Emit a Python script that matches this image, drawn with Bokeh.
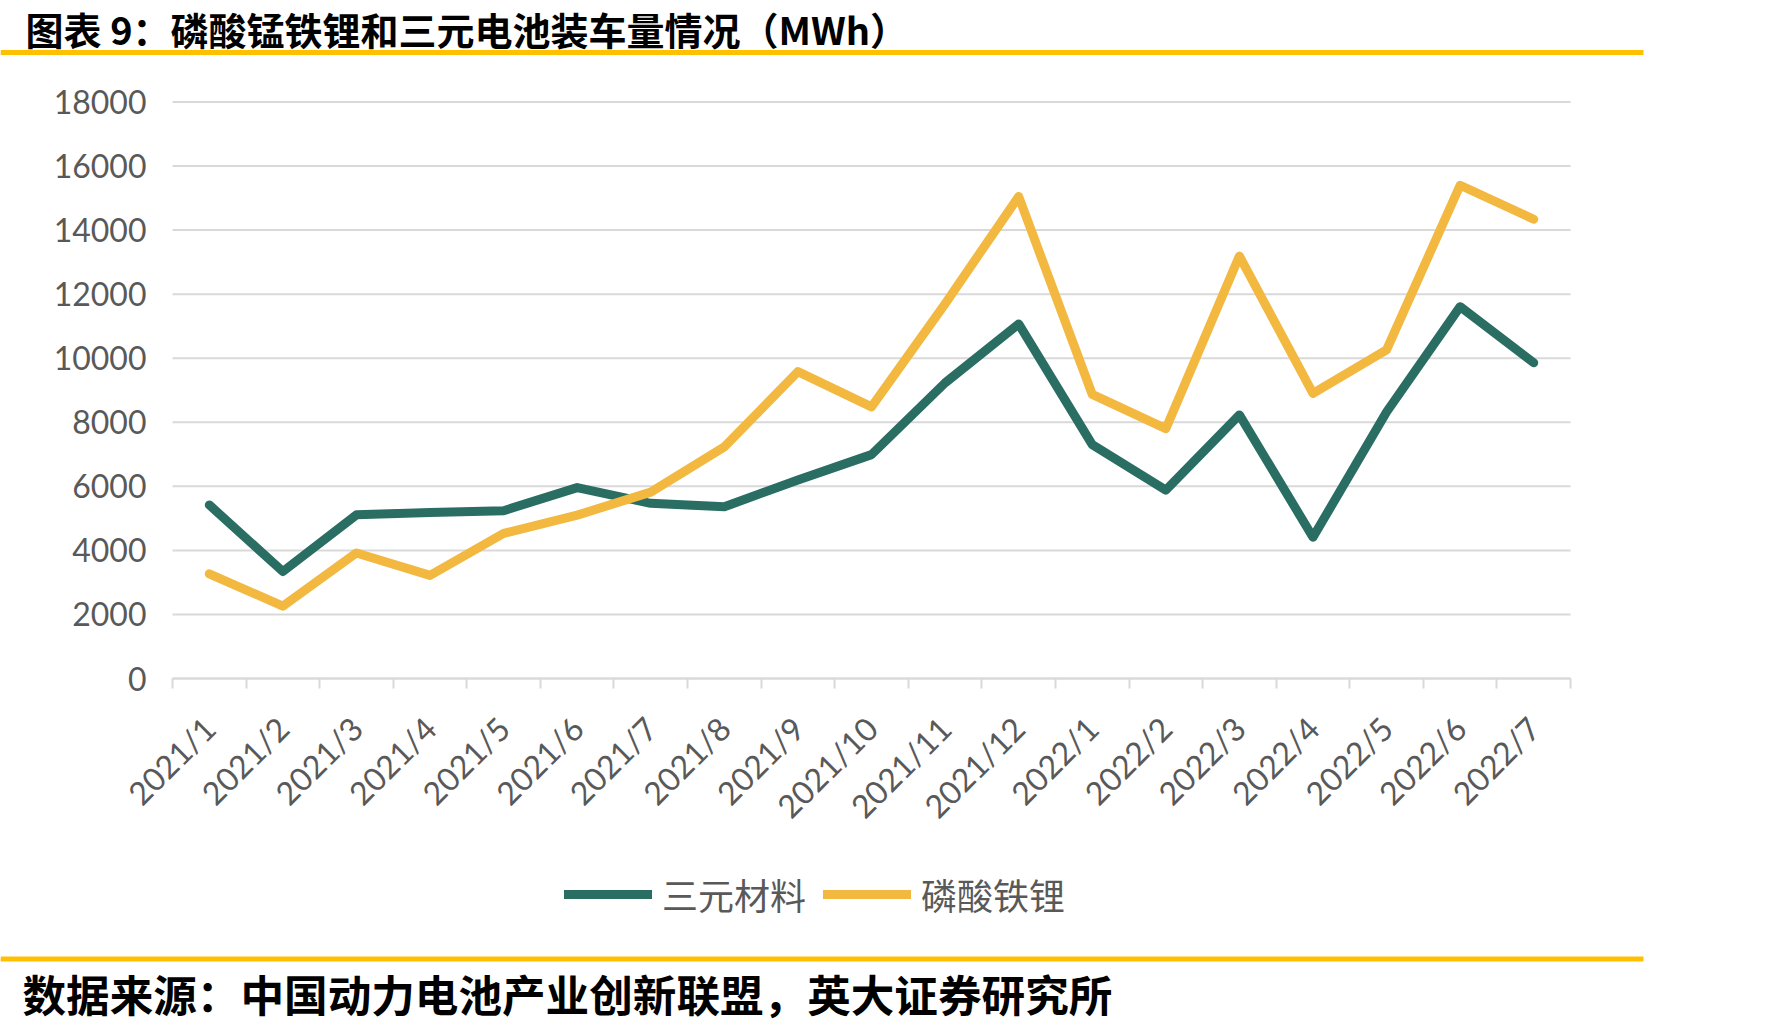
import math
from bokeh.plotting import figure
from bokeh.models import (Range1d, FixedTicker, Legend, LegendItem, ColumnDataSource,
                          Label, BoxAnnotation)
from bokeh.embed import file_html
from bokeh.resources import INLINE

# ---------------- data ----------------
categories = ["2021/1", "2021/2", "2021/3", "2021/4", "2021/5", "2021/6", "2021/7",
              "2021/8", "2021/9", "2021/10", "2021/11", "2021/12", "2022/1", "2022/2",
              "2022/3", "2022/4", "2022/5", "2022/6", "2022/7"]
ternary = [5420, 3340, 5110, 5180, 5240, 5960, 5470, 5360, 6200, 6990, 9230, 11070,
           7300, 5880, 8230, 4410, 8320, 11610, 9860]
lfp = [3270, 2260, 3920, 3220, 4530, 5100, 5820, 7230, 9580, 8480, 11700, 15050,
       8870, 7800, 13190, 8900, 10260, 15400, 14340]
y_ticks = [0, 2000, 4000, 6000, 8000, 10000, 12000, 14000, 16000, 18000]
series_names = ["三元材料", "磷酸铁锂"]
title_text = "图表 9：磷酸锰铁锂和三元电池装车量情况（MWh）"
source_text = "数据来源：中国动力电池产业创新联盟，英大证券研究所"

GREEN = "#2A6E63"
YELLOW = "#F2B840"
GOLD = "#FFC000"
GRAY = "#D9D9D9"
LABEL = "#595959"

W, H = 1768, 1026
# plot-area placement on the page (px)
PL, PR, PT, PB = 172, 1570, 101.5, 678
n = len(categories)
YMAX = y_ticks[-1]
cw = (PR - PL) / n            # px per category
sy = (PB - PT) / YMAX         # px per MWh


def px2x(px):
    return (px - PL) / cw


def py2y(py):
    return (PB - py) / sy


xs = [i + 0.5 for i in range(n)]

# the frame covers the whole page; axes are pinned with fixed_location
p = figure(width=W, height=H,
           x_range=Range1d(px2x(0), px2x(W)), y_range=Range1d(py2y(H), py2y(0)),
           min_border=0, output_backend="svg", toolbar_location=None)
p.outline_line_color = None
p.background_fill_color = "white"
p.border_fill_color = "white"

# horizontal gridlines, limited to the plot area
p.ygrid.visible = False
p.xgrid.visible = False
p.segment(x0=[0] * len(y_ticks), x1=[n] * len(y_ticks), y0=y_ticks, y1=y_ticks,
          line_color=GRAY, line_width=2)

src = ColumnDataSource(dict(x=xs, ternary=ternary, lfp=lfp))
r1 = p.line("x", "ternary", source=src, line_color=GREEN, line_width=9,
            line_cap="round", line_join="round")
r2 = p.line("x", "lfp", source=src, line_color=YELLOW, line_width=9,
            line_cap="round", line_join="round")

# x axis: labels at category centres, small ticks at category boundaries
xa = p.xaxis[0]
xa.fixed_location = 0
xa.bounds = (0, n)
xa.ticker = FixedTicker(ticks=xs, minor_ticks=list(range(n + 1)))
xa.major_label_overrides = {x: c for x, c in zip(xs, categories)}
xa.major_tick_line_color = None
xa.major_tick_out = 10
xa.major_tick_in = 0
xa.minor_tick_line_color = GRAY
xa.minor_tick_line_width = 2
xa.minor_tick_out = 10
xa.minor_tick_in = 0
xa.axis_line_color = GRAY
xa.axis_line_width = 2
xa.major_label_orientation = math.pi / 4
xa.major_label_standoff = 34
xa.major_label_text_font = "Lato"
xa.major_label_text_font_size = "32px"
xa.major_label_text_color = LABEL

ya = p.yaxis[0]
ya.fixed_location = 0
ya.bounds = (0, YMAX)
ya.ticker = FixedTicker(ticks=y_ticks)
ya.axis_line_color = None
ya.major_tick_line_color = None
ya.minor_tick_line_color = None
ya.major_label_standoff = 20
ya.major_label_text_font = "Lato"
ya.major_label_text_font_size = "32px"
ya.major_label_text_color = LABEL

legend = Legend(items=[LegendItem(label=series_names[0], renderers=[r1]),
                       LegendItem(label=series_names[1], renderers=[r2])],
                orientation="horizontal", location=(564, H - 896 - 24),
                border_line_color=None, background_fill_alpha=0,
                label_text_font="Noto Sans CJK SC", label_text_font_size="36px",
                label_text_color=LABEL, glyph_width=88, glyph_height=48,
                label_standoff=10, spacing=17, padding=0, margin=0)
p.add_layout(legend, "center")

# header / footer
p.add_layout(Label(x=px2x(25), y=py2y(28), text=title_text,
                   text_font="Noto Sans CJK SC", text_font_style="bold",
                   text_font_size="38px", text_baseline="middle", text_align="left",
                   text_color="#000000"))
p.add_layout(BoxAnnotation(left=px2x(0), right=px2x(1643), top=py2y(49.5),
                           bottom=py2y(54.5), fill_color=GOLD, fill_alpha=1,
                           line_color=None))
p.add_layout(BoxAnnotation(left=px2x(0), right=px2x(1643), top=py2y(956),
                           bottom=py2y(961), fill_color=GOLD, fill_alpha=1,
                           line_color=None))
p.add_layout(Label(x=px2x(22), y=py2y(992), text=source_text,
                   text_font="Noto Sans CJK SC", text_font_style="bold",
                   text_font_size="43.6px", text_baseline="middle", text_align="left",
                   text_color="#000000"))

open("out.html", "w").write(file_html(p, INLINE))
